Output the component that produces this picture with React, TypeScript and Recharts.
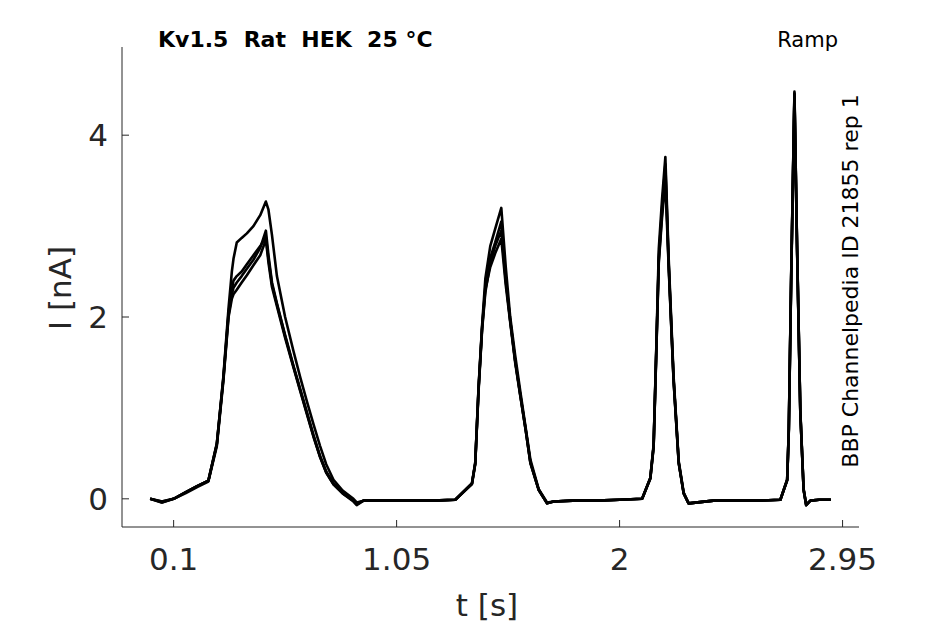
import { LineChart, Line, XAxis, YAxis } from "recharts";

// sample times (s), shared by every sweep
const timeS = [
  0, 0.05, 0.1, 0.15, 0.2, 0.248, 0.284, 0.312, 0.334, 0.348,
  0.355, 0.369, 0.39, 0.412, 0.44, 0.469, 0.493, 0.504, 0.519, 0.54,
  0.575, 0.611, 0.64, 0.668, 0.696, 0.724, 0.75, 0.781, 0.82, 0.866,
  0.88, 0.909, 1.0, 1.1, 1.2, 1.3, 1.371, 1.385, 1.399, 1.414,
  1.428, 1.449, 1.47, 1.496, 1.515, 1.534, 1.555, 1.577, 1.6, 1.62,
  1.655, 1.691, 1.719, 1.8, 1.9, 2.0, 2.096, 2.131, 2.145, 2.157,
  2.167, 2.181, 2.195, 2.209, 2.23, 2.252, 2.273, 2.294, 2.4, 2.5,
  2.6, 2.685, 2.714, 2.721, 2.731, 2.745, 2.756, 2.77, 2.784, 2.795,
  2.813, 2.85, 2.9,
];

// current (nA) per sweep
const sweep1 = [
  0, -0.03, 0, 0.07, 0.14, 0.2, 0.6, 1.35, 2.1, 2.5,
  2.64, 2.82, 2.87, 2.92, 3.0, 3.12, 3.27, 3.18, 2.9, 2.45,
  2.0, 1.62, 1.33, 1.07, 0.82, 0.58, 0.38, 0.21, 0.09, 0.0,
  -0.04, -0.02, -0.02, -0.02, -0.02, -0.01, 0.17, 0.4, 1.22, 1.9,
  2.42, 2.78, 2.97, 3.2, 2.55, 2.0, 1.58, 1.18, 0.78, 0.43,
  0.11, -0.04, -0.03, -0.02, -0.02, -0.01, 0.0, 0.23, 0.6, 1.72,
  2.75, 3.3, 3.76, 2.65, 1.35, 0.41, 0.07, -0.05, -0.02, -0.02,
  -0.02, -0.01, 0.21, 0.78, 2.45, 4.48, 2.8, 0.97, 0.11, -0.07,
  -0.02, -0.01, -0.01,
];
const sweep2 = [
  0, -0.04, 0, 0.07, 0.14, 0.2, 0.6, 1.32, 2.02, 2.25,
  2.32, 2.38, 2.45, 2.53, 2.63, 2.76, 2.95, 2.68, 2.38, 2.15,
  1.8, 1.46, 1.2, 0.95, 0.7, 0.47, 0.3, 0.17, 0.07, -0.02,
  -0.06, -0.02, -0.02, -0.02, -0.02, -0.01, 0.17, 0.39, 1.2, 1.87,
  2.3, 2.55, 2.7, 2.86, 2.35, 1.94, 1.5, 1.13, 0.75, 0.39,
  0.1, -0.05, -0.03, -0.02, -0.02, -0.01, 0.0, 0.23, 0.58, 1.68,
  2.6, 3.1, 3.5, 2.55, 1.31, 0.39, 0.06, -0.05, -0.02, -0.02,
  -0.02, -0.01, 0.21, 0.76, 2.42, 4.42, 2.78, 0.95, 0.1, -0.07,
  -0.02, -0.01, -0.01,
];
const sweep3 = [
  0, -0.03, 0, 0.06, 0.13, 0.19, 0.58, 1.3, 2.0, 2.2,
  2.25, 2.3, 2.38, 2.46, 2.57, 2.68, 2.85, 2.6, 2.33, 2.12,
  1.77, 1.44, 1.18, 0.93, 0.68, 0.46, 0.29, 0.16, 0.06, -0.02,
  -0.05, -0.02, -0.02, -0.02, -0.02, -0.01, 0.16, 0.38, 1.18, 1.85,
  2.27, 2.6, 2.78, 2.95, 2.4, 1.96, 1.52, 1.14, 0.76, 0.4,
  0.1, -0.05, -0.03, -0.02, -0.02, -0.01, 0.0, 0.22, 0.57, 1.66,
  2.62, 3.15, 3.62, 2.58, 1.3, 0.39, 0.06, -0.05, -0.02, -0.02,
  -0.02, -0.01, 0.2, 0.75, 2.4, 4.45, 2.76, 0.95, 0.1, -0.06,
  -0.02, -0.01, -0.01,
];
const sweep4 = [
  0, -0.04, 0, 0.07, 0.14, 0.2, 0.61, 1.33, 2.05, 2.3,
  2.4, 2.45, 2.5, 2.58, 2.68, 2.78, 2.88, 2.64, 2.36, 2.14,
  1.79, 1.45, 1.19, 0.94, 0.69, 0.46, 0.29, 0.16, 0.06, -0.03,
  -0.07, -0.02, -0.02, -0.02, -0.02, -0.01, 0.17, 0.39, 1.21, 1.88,
  2.33, 2.65, 2.82, 3.05, 2.42, 1.96, 1.52, 1.14, 0.76, 0.4,
  0.1, -0.05, -0.03, -0.02, -0.02, -0.01, 0.0, 0.23, 0.58, 1.7,
  2.66, 3.2, 3.68, 2.6, 1.32, 0.4, 0.06, -0.05, -0.02, -0.02,
  -0.02, -0.01, 0.21, 0.77, 2.44, 4.46, 2.79, 0.96, 0.1, -0.07,
  -0.02, -0.01, -0.01,
];

const xTicks = [0.1, 1.05, 2, 2.95];
const yTicks = [0, 2, 4];

const sweeps = [sweep1, sweep2, sweep3, sweep4];

const data = timeS.map((t, i) => {
  const row: any = { t };
  sweeps.forEach((s, k) => {
    row["s" + k] = s[i];
  });
  return row;
});

const font = "DejaVu Sans";
const axisColor = "#262626";

export default function App() {
  return (
    <div
      style={{
        position: "absolute",
        left: 0,
        top: 0,
        width: 945,
        height: 624,
        background: "#fff",
      }}
    >
      <LineChart
        width={945}
        height={624}
        data={data}
        margin={{ top: 47, right: 86, bottom: 37, left: 62 }}
      >
        <XAxis
          type="number"
          dataKey="t"
          domain={[-0.12, 3.02]}
          ticks={xTicks}
          interval={0}
          allowDataOverflow
          height={60}
          tickSize={-7}
          tickMargin={28}
          stroke={axisColor}
          tick={{ fill: axisColor, fontSize: 31, fontFamily: font }}
        />
        <YAxis
          type="number"
          domain={[-0.31, 4.97]}
          ticks={yTicks}
          interval={0}
          allowDataOverflow
          width={60}
          tickSize={-7}
          tickMargin={21}
          stroke={axisColor}
          tick={{ fill: axisColor, fontSize: 31, fontFamily: font }}
        />
        {sweeps.map((_, k) => (
          <Line
            key={k}
            type="linear"
            dataKey={"s" + k}
            stroke="#000"
            strokeWidth={2.6}
            strokeLinejoin="round"
            dot={false}
            isAnimationActive={false}
          />
        ))}
      </LineChart>
      <svg
        width={945}
        height={624}
        style={{ position: "absolute", left: 0, top: 0, pointerEvents: "none" }}
      >
        <text
          x={158}
          y={47}
          fontFamily={font}
          fontSize={22}
          fontWeight="bold"
          fill="#000"
          style={{ whiteSpace: "pre" }}
        >
          {"Kv1.5  Rat  HEK  25 °C"}
        </text>
        <text x={838} y={47} textAnchor="end" fontFamily={font} fontSize={21} fill="#000">
          Ramp
        </text>
        <text
          x={858}
          y={281}
          textAnchor="middle"
          fontFamily={font}
          fontSize={22}
          fill="#000"
          transform="rotate(-90, 858, 281)"
        >
          BBP Channelpedia ID 21855 rep 1
        </text>
        <text
          x={71}
          y={288}
          textAnchor="middle"
          fontFamily={font}
          fontSize={31}
          fill={axisColor}
          transform="rotate(-90, 71, 288)"
        >
          I [nA]
        </text>
        <text x={487} y={616} textAnchor="middle" fontFamily={font} fontSize={31} fill={axisColor}>
          t [s]
        </text>
      </svg>
    </div>
  );
}
